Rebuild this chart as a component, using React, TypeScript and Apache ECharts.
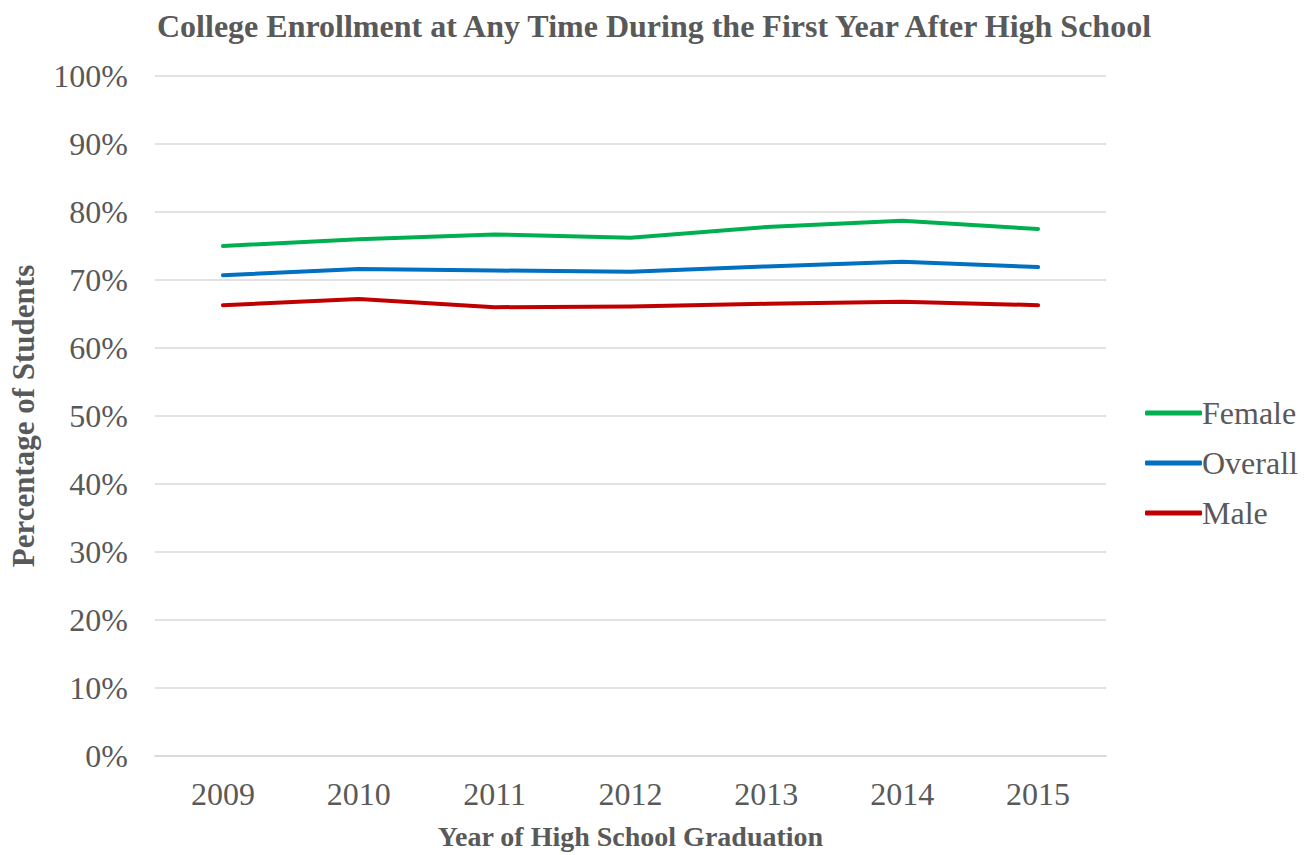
import React, { useEffect, useRef } from "react";
import * as echarts from "echarts";

const years = ["2009", "2010", "2011", "2012", "2013", "2014", "2015"];
const female = [75.0, 76.0, 76.7, 76.2, 77.8, 78.7, 77.5];
const overall = [70.7, 71.6, 71.4, 71.2, 72.0, 72.7, 71.9];
const male = [66.3, 67.2, 66.0, 66.1, 66.5, 66.8, 66.3];

const FONT = "'Liberation Serif', 'Times New Roman', serif";
const GREY = "#595959";

export default function App() {
  const ref = useRef<HTMLDivElement>(null);
  useEffect(() => {
    const chart = echarts.init(ref.current!, null, { renderer: "svg" });
    const mk = (name: string, data: number[], color: string) => ({
      name,
      type: "line",
      data,
      symbol: "none",
      lineStyle: { color, width: 4, cap: "round", join: "round" },
      itemStyle: { color },
    });
    chart.setOption({
      animation: false,
      title: {
        text: "College Enrollment at Any Time During the First Year After High School",
        left: 649,
        textAlign: "center",
        top: 5,
        textStyle: { fontFamily: FONT, fontSize: 32, fontWeight: "bold", color: GREY },
      },
      legend: {
        orient: "vertical",
        left: 1140,
        top: 392,
        itemWidth: 57,
        itemHeight: 5,
        itemGap: 18,
        icon: "roundRect",
        data: ["Female", "Overall", "Male"],
        textStyle: { fontFamily: FONT, fontSize: 32, color: GREY, padding: [0, 0, 0, -5] },
      },
      grid: { left: 149, right: 207, top: 76, bottom: 91 },
      xAxis: {
        type: "category",
        data: years,
        boundaryGap: true,
        name: "Year of High School Graduation",
        nameLocation: "middle",
        nameGap: 66,
        nameTextStyle: { fontFamily: FONT, fontSize: 28, fontWeight: "bold", color: GREY },
        axisLine: { lineStyle: { color: "#d9d9d9", width: 1.5 } },
        axisTick: { show: false },
        axisLabel: { fontFamily: FONT, fontSize: 32, color: GREY, margin: 22 },
      },
      yAxis: {
        type: "value",
        min: 0,
        max: 100,
        interval: 10,
        name: "Percentage of Students",
        nameLocation: "middle",
        nameGap: 116,
        nameTextStyle: { fontFamily: FONT, fontSize: 31, fontWeight: "bold", color: GREY },
        axisLabel: {
          fontFamily: FONT,
          fontSize: 32,
          color: GREY,
          margin: 27,
          formatter: (v: number) => v + "%",
        },
        splitLine: { lineStyle: { color: "#d9d9d9", width: 1.5 } },
        axisLine: { show: false },
        axisTick: { show: false },
      },
      series: [
        mk("Female", female, "#00b050"),
        mk("Overall", overall, "#0070c0"),
        mk("Male", male, "#c00000"),
      ],
    });
    return () => chart.dispose();
  }, []);
  return <div ref={ref} style={{ width: 1313, height: 855, position: "absolute", left: 0, top: 0 }} />;
}
